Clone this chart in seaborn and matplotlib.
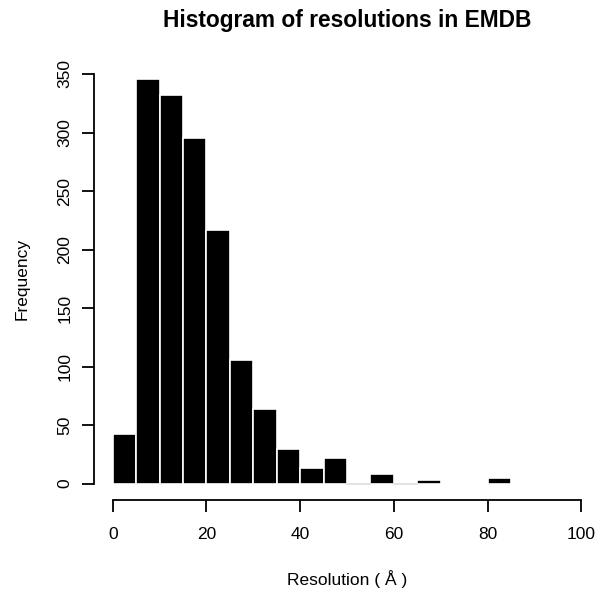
import numpy as np
import matplotlib
matplotlib.use('Agg')
import matplotlib.pyplot as plt
import seaborn as sns

# bins of 5 A from 0 to 85, counts
bin_edges = [0, 5, 10, 15, 20, 25, 30, 35, 40, 45, 50, 55, 60, 65, 70, 75, 80, 85]
counts = [42, 346, 332, 295, 217, 106, 64, 30, 13, 22, 0, 8, 0, 3, 0, 0, 5]
x_ticks = [0, 20, 40, 60, 80, 100]
y_ticks = [0, 50, 100, 150, 200, 250, 300, 350]

sns.set_style('white')
plt.rcParams['font.family'] = ['Liberation Sans', 'DejaVu Sans']
plt.rcParams['text.color'] = 'black'
plt.rcParams['axes.labelcolor'] = 'black'

fig = plt.figure(figsize=(6.02, 5.97), dpi=100)
ax = fig.add_axes([94 / 602, 97 / 597, 506 / 602, 442.4 / 597])

mids = [(a + b) / 2 for a, b in zip(bin_edges[:-1], bin_edges[1:])]
sns.histplot(x=mids, weights=counts, bins=bin_edges, color='black',
             edgecolor='white', linewidth=1.2, alpha=1, ax=ax)

# zero-height bins show as a faint line in the original
for a, b, c in zip(bin_edges[:-1], bin_edges[1:], counts):
    if c == 0 and a in (50, 60):
        ax.plot([a, b], [0, 0], color='#dddddd', lw=1.2, zorder=3)

ax.set_xlim(-4, 104)
ax.set_ylim(-14, 364)
ax.set_xticks(x_ticks)
ax.set_yticks(y_ticks)
ax.set_yticklabels([str(v) for v in y_ticks], rotation=90, va='center')

for s in ['top', 'right']:
    ax.spines[s].set_visible(False)
ax.spines['left'].set_bounds(0, 350)
ax.spines['bottom'].set_bounds(0, 100)
for s in ['left', 'bottom']:
    ax.spines[s].set_linewidth(1.3)
    ax.spines[s].set_color('black')

ax.tick_params(axis='x', direction='out', length=8.6, width=1.3, pad=11, labelsize=12.5, colors='black')
ax.tick_params(axis='y', direction='out', length=8.6, width=1.3, pad=7, labelsize=12.5, colors='black')
ax.tick_params(bottom=True, left=True)

ax.set_xlabel('Resolution ( Å )', fontsize=12.5, labelpad=20)
ax.set_ylabel('Frequency', fontsize=12.5, labelpad=20)
ax.set_title('Histogram of resolutions in EMDB', fontsize=16.4, fontweight='bold', pad=22)

fig.savefig('out.png', dpi=100)
